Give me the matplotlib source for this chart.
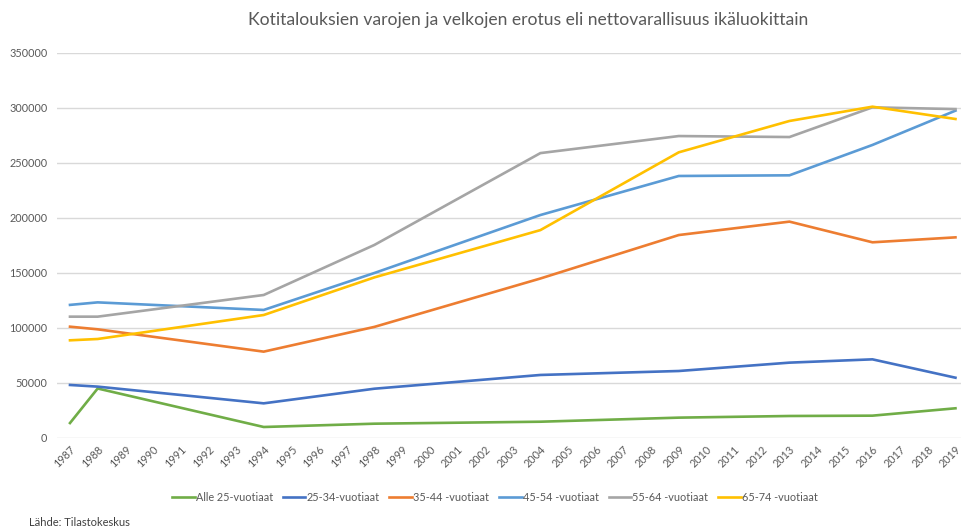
import matplotlib.pyplot as plt

# Data
years = [1987, 1988, 1994, 1998, 2004, 2009, 2013, 2016, 2019]
alle_25 = [13600, 45000, 10000, 13000, 14800, 18500, 20000, 20300, 27000]
v25_34 = [48200, 46700, 31500, 44800, 57300, 60900, 68500, 71500, 54800]
v35_44 = [101200, 98800, 78500, 101000, 145000, 184500, 196700, 177900, 182400]
v45_54 = [121000, 123300, 116400, 150000, 202700, 238200, 238800, 266400, 297600]
v55_64 = [110300, 110300, 130000, 175500, 259000, 274500, 273600, 300600, 299000]
v65_74 = [88800, 90000, 111800, 146000, 189000, 259700, 288200, 301200, 290000]

series = [
    ('Alle 25-vuotiaat', alle_25, '#70AD47'),
    ('25-34-vuotiaat', v25_34, '#4472C4'),
    ('35-44 -vuotiaat', v35_44, '#ED7D31'),
    ('45-54 -vuotiaat', v45_54, '#5B9BD5'),
    ('55-64 -vuotiaat', v55_64, '#A5A5A5'),
    ('65-74 -vuotiaat', v65_74, '#FFC000'),
]
tick_years = list(range(1987, 2020))
yticks = [0, 50000, 100000, 150000, 200000, 250000, 300000, 350000]

plt.rcParams['font.family'] = ['Lato', 'DejaVu Sans']

fig = plt.figure(figsize=(9.61, 5.30), dpi=100)
ax = fig.add_axes([0.0593, 0.1736, 0.9407, 0.7264])

for name, vals, col in series:
    ax.plot(years, vals, color=col, lw=1.9, label=name, solid_joinstyle='miter')

ax.set_xlim(1986.53, 2019.2)
ax.set_ylim(0, 350000)
ax.set_yticks(yticks)
ax.set_yticklabels([str(v) for v in yticks])
ax.set_xticks(tick_years)
ax.set_xticklabels([str(y) for y in tick_years], rotation=45, ha='right',
                   rotation_mode='anchor')
ax.tick_params(axis='both', length=0, labelsize=7.8, colors='#595959')
ax.tick_params(axis='x', pad=4)
ax.tick_params(axis='y', pad=7)
ax.yaxis.grid(True, color='#d9d9d9', lw=1)
ax.set_axisbelow(True)
for s in ax.spines.values():
    s.set_visible(False)

fig.text(0.55, 0.962, 'Kotitalouksien varojen ja velkojen erotus eli nettovarallisuus ikäluokittain',
         ha='center', va='center', fontsize=12.6, color='#595959')

fig.legend(loc='center', bbox_to_anchor=(0.515, 0.062), ncol=6, frameon=False,
           fontsize=7.8, handlelength=2.1, handletextpad=0.1, columnspacing=0.9,
           labelcolor='#595959')

fig.text(0.030, 0.015, 'Lähde: Tilastokeskus', ha='left', va='center',
         fontsize=8, color='#404040')

fig.savefig('out.png', dpi=100)
